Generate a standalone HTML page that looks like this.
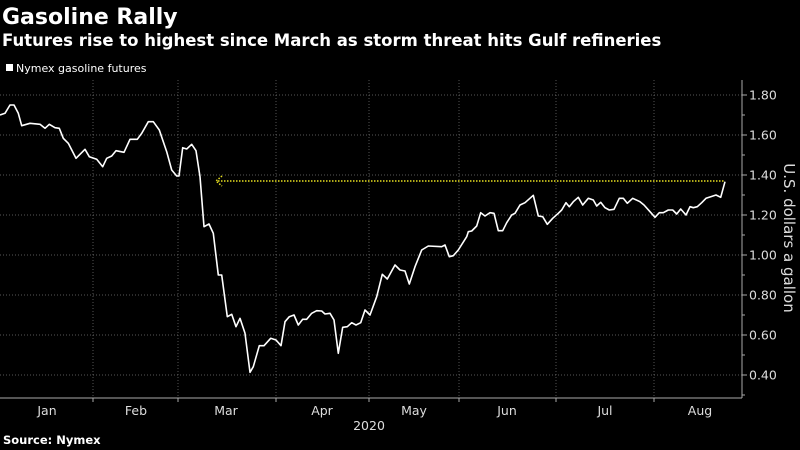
<!DOCTYPE html>
<html><head><style>
body{margin:0;background:#000;width:800px;height:450px;overflow:hidden;font-family:"DejaVu Sans","Liberation Sans",sans-serif;color:#fff}
</style></head><body>
<svg id="s" width="800" height="450" xmlns="http://www.w3.org/2000/svg" style="position:absolute;left:0;top:0">
<text x="2" y="24" font-size="22" font-weight="bold" fill="#fff" font-family="DejaVu Sans,Liberation Sans,sans-serif">Gasoline Rally</text>
<text x="2" y="46" font-size="16.5" font-weight="bold" fill="#fff" font-family="DejaVu Sans,Liberation Sans,sans-serif">Futures rise to highest since March as storm threat hits Gulf refineries</text>
<rect x="6" y="64" width="7" height="7" fill="#fff"/>
<text x="16" y="72" font-size="11" fill="#fff" font-family="DejaVu Sans,Liberation Sans,sans-serif">Nymex gasoline futures</text>
<g id="grid" stroke="#777" stroke-width="0.7" stroke-dasharray="1,2"></g>
<line x1="742" y1="80" x2="742" y2="398" stroke="#aaa" stroke-width="1"/>
<line x1="0" y1="398" x2="742" y2="398" stroke="#aaa" stroke-width="1"/>
<g id="lab" font-size="12.5" fill="#ddd" font-family="DejaVu Sans,Liberation Sans,sans-serif"></g>
<text x="369" y="430" font-size="12.5" fill="#ddd" text-anchor="middle" font-family="DejaVu Sans,Liberation Sans,sans-serif">2020</text>
<text transform="translate(784,238) rotate(90)" font-size="15" fill="#ddd" text-anchor="middle" font-family="DejaVu Sans,Liberation Sans,sans-serif">U.S. dollars a gallon</text>
<text x="3" y="444" font-size="11.5" font-weight="bold" fill="#fff" font-family="DejaVu Sans,Liberation Sans,sans-serif">Source: Nymex</text>
<line x1="218" y1="181" x2="725" y2="181" stroke="#e8e020" stroke-width="1.5" stroke-dasharray="1.5,1.5"/>
<polyline points="222,176 216,181 222,186" fill="none" stroke="#e8e020" stroke-width="1.5" stroke-dasharray="1.5,1.5"/>
<polyline id="ln" fill="none" stroke="#fff" stroke-width="1.6" stroke-linejoin="round"/>
</svg>
<script>
var ns="http://www.w3.org/2000/svg";
function el(p,t,a,txt){var e=document.createElementNS(ns,t);for(var k in a)e.setAttribute(k,a[k]);if(txt)e.textContent=txt;document.getElementById(p).appendChild(e);}
[95,135,175,215,255,295,335,375].forEach(function(y,i){el("grid","line",{x1:0,y1:y,x2:742,y2:y});
el("lab","line",{x1:742,y1:y,x2:747,y2:y,stroke:"#aaa"});
el("lab","text",{x:749,y:y+4.5},(1.8-0.2*i).toFixed(2));});
[115,155,195,235,275,315,355,395].forEach(function(y){el("lab","line",{x1:742,y1:y,x2:745,y2:y,stroke:"#aaa"});});
[93,178,276,369,459,556,654].forEach(function(x){el("grid","line",{x1:x,y1:80,x2:x,y2:398});el("lab","line",{x1:x,y1:398,x2:x,y2:402,stroke:"#aaa"});});
[["Jan",47],["Feb",136],["Mar",226],["Apr",322],["May",414],["Jun",507],["Jul",605],["Aug",700]].forEach(function(m){el("lab","text",{x:m[1],y:415,"text-anchor":"middle"},m[0]);});
var a=[0,105,15,100,30,75,42,75,55,100,65,137,90,130,120,133,135,145,148,133,165,143,178,145,190,175,205,190,228,235,255,208,268,230,290,238,308,260,320,235,335,228,348,212,372,217,390,178,412,178,425,160,445,125,460,125,478,150,500,215,515,270,530,288,537,288,548,203,560,207,575,193,588,212,600,290,612,440,627,432,640,460,655,585,665,585,682,710,695,703,708,740,720,715,735,760,750,877,760,860,778,797,792,797,812,775,828,780,843,797,855,725,868,710,882,705,895,735,908,718,920,718,935,700,950,692,965,693,975,702,990,700,1002,720,1015,820,1028,742,1042,740,1055,728,1068,735,1082,728,1095,690,1110,705,1130,650,1147,583,1162,597,1185,555];
var b=[0,570,15,573,28,612,45,560,65,510,85,498,125,500,135,495,148,530,160,527,175,510,200,470,205,455,215,453,230,438,242,398,255,408,270,398,282,400,295,452,308,452,320,428,335,405,345,400,360,375,375,368,400,346,415,408,428,410,442,433,458,415,475,400,485,390,498,368,508,380,520,365,535,352,548,375,565,355,580,360,590,378,602,367,615,383,628,390,642,388,658,355,670,355,682,370,698,355,720,365,732,375,750,395,765,412,778,398,790,398,805,390,818,390,830,402,842,387,858,405,870,380,880,383,892,380,905,368,918,355,932,350,948,345,962,352,975,305];
var p=[];for(var i=0;i<a.length;i+=2)p.push((a[i]/3).toFixed(1)+","+(80+a[i+1]/3).toFixed(1));
for(i=0;i<b.length;i+=2)p.push((400+b[i]/3).toFixed(1)+","+(80+b[i+1]/3).toFixed(1));
document.getElementById("ln").setAttribute("points",p.join(" "));
</script>
</body></html>
